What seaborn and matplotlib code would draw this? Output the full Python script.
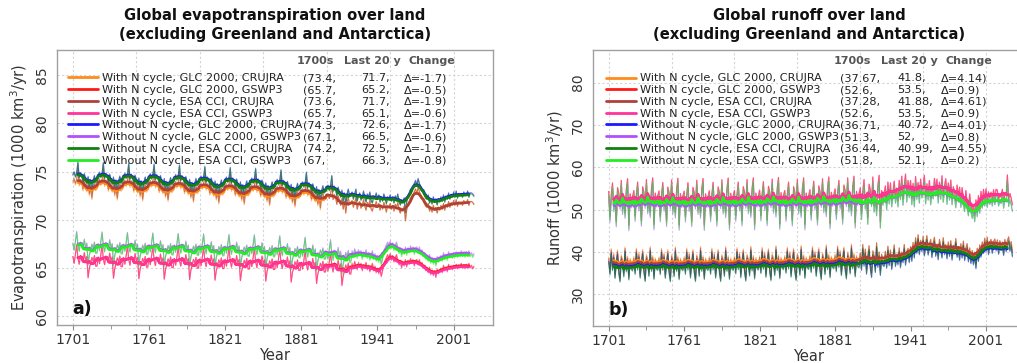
import numpy as np
import pandas as pd
import matplotlib
matplotlib.use("Agg")
import matplotlib.pyplot as plt
from matplotlib.lines import Line2D
import seaborn as sns

# ---------------------------------------------------------------- runs
RUNS = [
    "With N cycle, GLC 2000, CRUJRA",
    "With N cycle, GLC 2000, GSWP3",
    "With N cycle, ESA CCI, CRUJRA",
    "With N cycle, ESA CCI, GSWP3",
    "Without N cycle, GLC 2000, CRUJRA",
    "Without N cycle, GLC 2000, GSWP3",
    "Without N cycle, ESA CCI, CRUJRA",
    "Without N cycle, ESA CCI, GSWP3",
]
COLORS = ["#ff8c1a", "#ff1a1a", "#b0403a", "#ff3399",
          "#1a1aff", "#b050ff", "#108010", "#22ee22"]
FORCING = ["CRUJRA", "GSWP3", "CRUJRA", "GSWP3",
           "CRUJRA", "GSWP3", "CRUJRA", "GSWP3"]

# Summary numbers per run: 1700s mean, mean of the last 20 years, change
ET_1700S = [73.4, 65.7, 73.6, 65.7, 74.3, 67.1, 74.2, 67.0]
ET_LAST20 = [71.7, 65.2, 71.7, 65.1, 72.6, 66.5, 72.5, 66.3]
ET_CHANGE = [-1.7, -0.5, -1.9, -0.6, -1.7, -0.6, -1.7, -0.8]

RO_1700S = [37.67, 52.6, 37.28, 52.6, 36.71, 51.3, 36.44, 51.8]
RO_LAST20 = [41.8, 53.5, 41.88, 53.5, 40.72, 52.0, 40.99, 52.1]
RO_CHANGE = [4.14, 0.9, 4.61, 0.9, 4.01, 0.8, 4.55, 0.2]

# ---------------------------------------------------------------- annual series
# Spin-up years (1701-1920) recycle the 1901-1920 climate forcing, so their
# annual anomalies repeat every 20 years around a slowly drifting level.
# Values are for the GLC 2000 "with N cycle" run of each forcing (1000 km3/yr).

# Evapotranspiration, CRUJRA forcing
ET_CRU_CYCLE = [0.3, 0.6, 0.1, 0.5, 1.6, 0.0, 0.5, 0.2, -0.5, 0.4,
                -0.1, -0.6, 0.1, -1.0, -0.2, -1.4, -0.3, 0.2, -0.5, -0.3]
ET_CRU_LEVELS = [73.5, 73.45, 73.35, 73.3, 73.2, 73.05, 72.95, 72.85, 72.7, 72.45, 72.1]
ET_CRU_1921 = [
    72.0, 71.3, 71.8, 72.3, 71.1, 71.6, 71.9, 71.2, 71.5, 72.1,
    71.4, 71.0, 71.8, 71.5, 72.0, 71.1, 70.9, 71.6, 71.4, 71.9,
    71.3, 71.7, 71.0, 71.5, 71.1, 71.8, 71.4, 70.8, 71.5, 71.3,
    71.7, 71.1, 71.4, 70.9, 71.6, 71.3, 71.8, 71.0, 70.7, 71.2,
    70.9, 71.4, 69.9, 71.0, 71.6, 71.9, 72.3, 72.1, 72.6, 72.9,
    73.2, 72.7, 73.4, 72.9, 72.6, 72.2, 72.0, 71.7, 71.4, 71.3,
    71.7, 70.9, 71.2, 70.8, 71.5, 71.0, 71.3, 70.7, 71.2, 71.0,
    71.5, 71.1, 71.7, 71.0, 71.6, 71.3, 71.9, 71.3, 71.7, 71.5,
    72.0, 71.5, 72.1, 71.4, 71.8, 71.7, 71.8, 71.5, 72.0, 71.7,
    71.7, 72.1, 71.5, 71.9, 71.9, 71.8, 71.6,
]

# Evapotranspiration, GSWP3 forcing
ET_GSW_CYCLE = [0.4, -0.3, 0.6, 1.6, 0.2, -0.4, 0.5, 0.1, -0.2, 0.8,
                0.0, 0.4, -1.8, -0.8, -0.3, 0.3, -0.1, 0.5, -0.6, -0.6]
ET_GSW_LEVELS = [65.8, 65.75, 65.7, 65.65, 65.6, 65.55, 65.5, 65.45, 65.35, 65.2, 65.05]
ET_GSW_1921 = [
    65.5, 65.0, 65.7, 65.3, 64.9, 65.6, 65.2, 65.5, 64.8, 65.3,
    65.2, 65.6, 64.9, 65.3, 64.7, 65.1, 65.5, 64.8, 65.2, 64.6,
    65.0, 64.5, 64.9, 64.2, 64.8, 65.4, 65.8, 66.1, 66.4, 66.1,
    66.5, 65.9, 66.3, 65.7, 66.1, 66.4, 65.8, 65.4, 65.7, 65.1,
    65.7, 65.3, 65.9, 65.2, 65.8, 65.5, 66.0, 65.6, 65.9, 65.3,
    65.8, 65.9, 65.4, 65.9, 65.3, 65.6, 65.1, 65.3, 64.8, 65.0,
    64.6, 65.1, 64.4, 64.8, 64.3, 64.7, 64.1, 64.9, 64.5, 64.8,
    65.0, 64.6, 65.3, 64.8, 65.1, 64.7, 65.4, 65.0, 65.2, 64.9,
    65.3, 65.1, 65.4, 65.0, 65.3, 65.2, 65.5, 65.1, 65.3, 65.0,
    65.4, 65.2, 65.5, 65.1, 65.3, 65.0, 65.2,
]

# Runoff, CRUJRA forcing
RO_CRU_CYCLE = [1.2, -1.8, 3.2, -0.8, 2.1, -2.7, 0.5, 2.9, -1.4, -3.5,
                1.7, 0.6, -2.3, 3.6, -1.1, 1.4, -3.0, 0.9, -0.6, -0.9]
RO_CRU_LEVELS = [37.6, 37.7, 37.65, 37.7, 37.7, 37.8, 37.9, 37.95, 38.1, 38.3, 38.5]
RO_CRU_1921 = [
    40.1, 37.2, 41.3, 37.8, 40.4, 36.9, 38.8, 41.6, 37.6, 39.4,
    38.0, 40.9, 37.3, 39.9, 38.5, 41.7, 37.9, 40.1, 40.8, 38.5,
    41.2, 38.8, 42.2, 39.6, 43.3, 40.7, 44.0, 40.4, 42.7, 41.1,
    43.6, 40.1, 41.9, 43.8, 40.3, 41.8, 42.9, 39.7, 42.1, 43.4,
    40.0, 41.8, 39.2, 42.9, 41.3, 39.6, 43.3, 40.4, 41.7, 39.4,
    42.3, 40.0, 42.6, 39.1, 41.5, 40.8, 43.1, 39.8, 41.2, 39.1,
    41.9, 39.6, 42.5, 39.0, 40.9, 41.9, 38.7, 40.9, 38.3, 40.3,
    38.0, 39.9, 37.1, 40.8, 38.8, 41.6, 39.8, 42.3, 40.7, 43.2,
    41.1, 43.4, 40.4, 42.2, 42.9, 40.7, 42.4, 43.0, 41.3, 42.8,
    40.5, 42.6, 41.5, 42.3, 40.2, 42.9, 41.1, 42.6, 43.5, 41.2,
    42.4, 39.9,
]

# Runoff, GSWP3 forcing
RO_GSW_CYCLE = [1.8, -4.2, 0.9, 3.8, -1.7, 0.5, -5.3, 2.7, 1.4, -1.1,
                4.4, -2.4, 0.6, -3.3, 2.3, 4.8, -6.2, 1.2, -0.8, 0.6]
RO_GSW_LEVELS = [52.5, 52.7, 52.6, 52.55, 52.65, 52.7, 52.8, 52.7, 52.9, 53.1, 53.3]
RO_GSW_1921 = [
    55.6, 51.4, 56.5, 52.8, 56.3, 52.1, 54.3, 56.7, 53.0, 55.1,
    52.1, 56.9, 53.8, 57.9, 52.5, 55.7, 58.4, 53.2, 56.9, 54.3,
    56.9, 52.6, 56.2, 52.1, 57.8, 53.9, 56.4, 53.0, 57.2, 54.2,
    55.5, 58.1, 52.8, 56.1, 53.7, 56.9, 52.6, 55.2, 54.0, 57.4,
    54.7, 57.2, 53.0, 56.5, 53.9, 58.0, 53.2, 55.6, 57.3, 52.7,
    56.3, 53.7, 57.0, 52.6, 55.4, 54.1, 51.9, 55.8, 53.3, 55.3,
    52.0, 55.2, 52.6, 51.0, 54.5, 51.8, 50.0, 53.7, 51.0, 49.4,
    51.0, 48.6, 52.3, 49.8, 53.3, 50.6, 54.3, 51.8, 54.8, 52.3,
    54.9, 52.0, 54.2, 52.7, 54.1, 52.3, 54.7, 52.6, 54.8, 54.6,
    52.3, 53.6, 52.9, 54.8, 51.8, 53.6, 53.3, 58.2, 52.2, 53.8,
    52.7, 51.1,
]


def reference(cycle, levels, recent):
    spin = np.repeat(levels, len(cycle)) + np.tile(cycle, len(levels))
    return np.concatenate([spin, recent])


def build_frame(refs, start, last):
    """Long table of every run: reference run of the same forcing shifted
    to that run's own 1700s level (spin-up) and last-20-year level."""
    ref_idx = {"CRUJRA": 0, "GSWP3": 1}
    rows = []
    for i, run in enumerate(RUNS):
        f = FORCING[i]
        base = refs[f]
        years = np.arange(1701, 1701 + len(base))
        j = ref_idx[f]
        shift = np.where(years < 1901, start[i] - start[j], last[i] - last[j])
        vals = base + shift
        smooth = pd.Series(vals).rolling(9, center=True).mean().to_numpy()
        rows.append(pd.DataFrame({"Year": years, "value": vals,
                                  "smooth": smooth, "run": run}))
    return pd.concat(rows, ignore_index=True)


et_df = build_frame(
    {"CRUJRA": reference(ET_CRU_CYCLE, ET_CRU_LEVELS, ET_CRU_1921),
     "GSWP3": reference(ET_GSW_CYCLE, ET_GSW_LEVELS, ET_GSW_1921)},
    ET_1700S, ET_LAST20)
ro_df = build_frame(
    {"CRUJRA": reference(RO_CRU_CYCLE, RO_CRU_LEVELS, RO_CRU_1921),
     "GSWP3": reference(RO_GSW_CYCLE, RO_GSW_LEVELS, RO_GSW_1921)},
    RO_1700S, RO_LAST20)

# ---------------------------------------------------------------- style
sns.set_style("white")
plt.rcParams.update({
    "font.family": ["DejaVu Sans"],
    "axes.edgecolor": "#a0a0a0",
    "axes.linewidth": 1.0,
    "xtick.color": "#333333",
    "ytick.color": "#333333",
    "text.color": "#222222",
})
palette = dict(zip(RUNS, COLORS))
GRID = dict(color="#d4d4d4", linestyle=(0, (2, 2)), linewidth=0.8)

W, H = 1017, 363
fig = plt.figure(figsize=(W / 100, H / 100), dpi=100)


def panel(rect, df, title, ylabel, ylim, yticks, tag,
          start, last, change, cols, heads):
    ax = fig.add_axes(rect)
    ax.patch.set_visible(False)
    sns.lineplot(data=df, x="Year", y="value", hue="run", hue_order=RUNS,
                 palette=palette, lw=0.8, alpha=0.6, estimator=None,
                 legend=False, ax=ax)
    sns.lineplot(data=df, x="Year", y="smooth", hue="run", hue_order=RUNS,
                 palette=palette, lw=1.9, estimator=None, legend=False, ax=ax)

    ax.set_xlim(1688.5, 2032)
    ax.set_ylim(*ylim)
    ax.set_xticks(np.arange(1701, 2002, 60))
    ax.set_xticks(np.arange(1731, 2002, 60), minor=True)
    ax.set_yticks(yticks)
    ax.tick_params(axis="both", which="major", labelsize=10, length=3.5,
                   color="#888888", direction="out", pad=2)
    ax.tick_params(axis="x", which="minor", length=3, color="#888888")
    for lab in ax.get_yticklabels():
        lab.set_rotation(90)
        lab.set_va("center")
    ax.yaxis.grid(True, **GRID)
    ax.set_axisbelow(True)
    ax.set_xlabel("Year", fontsize=10.5, color="#333333", labelpad=1)
    ax.set_ylabel(ylabel, fontsize=10.5, color="#333333", labelpad=4)
    ax.set_title(title, fontsize=10.6, fontweight="bold", color="#111111",
                 pad=8, linespacing=1.3)

    # vertical grid every 50 years on a hidden twin axis drawn underneath
    gx = ax.twiny()
    gx.set_xlim(ax.get_xlim())
    gx.set_xticks(np.arange(1701, 2032, 50))
    gx.tick_params(length=0, labeltop=False)
    gx.xaxis.grid(True, **GRID)
    for s in gx.spines.values():
        s.set_visible(False)
    gx.set_zorder(ax.get_zorder() - 1)

    handles = [Line2D([], [], color=c, lw=2) for c in COLORS]
    leg = ax.legend(handles, RUNS, loc="upper left",
                    bbox_to_anchor=(cols[0], 0.915), frameon=False,
                    fontsize=8.1, handlelength=2.7, handletextpad=0.35,
                    labelspacing=0.155, borderpad=0, borderaxespad=0)
    for t in leg.get_texts():
        t.set_color("#222222")

    fig.canvas.draw()
    inv = ax.transAxes.inverted()
    for i, t in enumerate(leg.get_texts()):
        bb = t.get_window_extent()
        y = inv.transform((0, (bb.y0 + bb.y1) / 2))[1]
        for x, s in zip(cols[1:], (f"({start[i]:g},", f"{last[i]:g},",
                                   f"\u0394={change[i]:g})")):
            ax.text(x, y, s, transform=ax.transAxes, fontsize=8.1,
                    va="center", ha="left", color="#222222")
    for x, s in zip(heads, ("1700s", "Last 20 y", "Change")):
        ax.text(x, 0.96, s, transform=ax.transAxes, fontsize=8.0,
                fontweight="bold", va="center", ha="left", color="#555555")

    ax.text(0.036, 0.058, tag, transform=ax.transAxes, fontsize=12.5,
            fontweight="bold", va="center", ha="left", color="#111111")
    return ax


panel([57 / W, 38 / H, 436 / W, 275 / H], et_df,
      "Global evapotranspiration over land\n(excluding Greenland and Antarctica)",
      "Evapotranspiration (1000 km$^3$/yr)", (59.1, 87.6), [60, 65, 70, 75, 80, 85],
      "a)", ET_1700S, ET_LAST20, ET_CHANGE,
      cols=(0.025, 0.564, 0.697, 0.796), heads=(0.55, 0.658, 0.807))

panel([593 / W, 37 / H, 432 / W, 276 / H], ro_df,
      "Global runoff over land\n(excluding Greenland and Antarctica)",
      "Runoff (1000 km$^3$/yr)", (22.5, 87.7), [30, 40, 50, 60, 70, 80],
      "b)", RO_1700S, RO_LAST20, RO_CHANGE,
      cols=(0.030, 0.572, 0.704, 0.806), heads=(0.556, 0.667, 0.815))

fig.savefig("out.png", dpi=100)
